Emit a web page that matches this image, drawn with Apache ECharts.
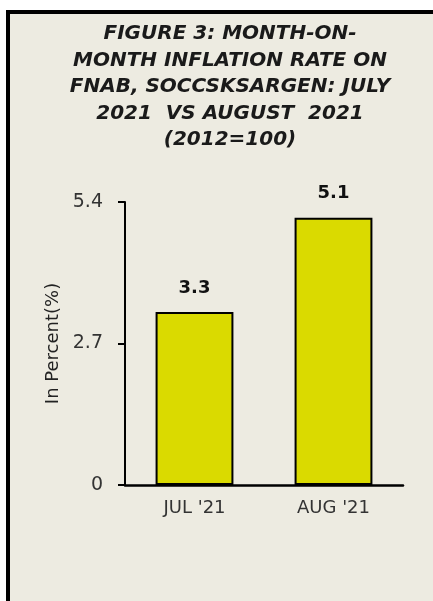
<!DOCTYPE html>
<html>
<head>
<meta charset="utf-8">
<script src="https://cdn.jsdelivr.net/npm/echarts@6/dist/echarts.min.js"></script>
<style>
    html, body {
        margin: 0;
        padding: 0;
        background: #ffffff;
    }
    /* 外框：只有左边和上边的黑线 */
    #frame {
        position: absolute;
        left: 6px;
        top: 10px;
        width: 440px;
        height: 600px;
        border-left: 4px solid #000;
        border-top: 4px solid #000;
        background: #edebe1;
    }
    #main {
        position: absolute;
        left: 0;
        top: 0;
        width: 433px;
        height: 601px;
    }
</style>
</head>
<body>
<div id="frame"></div>
<div id="main"></div>
<script>
// 数据
const categories = ['JUL \'21', 'AUG \'21'];
const values = [3.3, 5.1];
const yTicks = [0, 2.7, 5.4];

const titleText = 'FIGURE 3: MONTH-ON-\nMONTH INFLATION RATE ON\nFNAB, SOCCSKSARGEN: JULY\n2021  VS AUGUST  2021\n(2012=100)';

const myChart = echarts.init(document.getElementById('main'));

myChart.setOption({
    animation: false,
    title: {
        text: titleText,
        left: 225,
        top: 16,
        textAlign: 'center',
        textStyle: {
            fontFamily: 'DejaVu Sans',
            fontStyle: 'italic',
            fontWeight: 'bold',
            fontSize: 20,
            lineHeight: 26.5,
            color: '#1a1a1a'
        }
    },
    grid: {
        left: 125,
        right: 30,
        top: 202,
        bottom: 116
    },
    xAxis: {
        type: 'category',
        data: categories,
        axisLine: { lineStyle: { color: '#000', width: 2.5 } },
        axisTick: { show: false },
        axisLabel: {
            margin: 14,
            fontFamily: 'DejaVu Sans',
            fontSize: 18,
            color: '#333'
        }
    },
    yAxis: {
        type: 'value',
        min: yTicks[0],
        max: yTicks[yTicks.length - 1],
        interval: yTicks[1] - yTicks[0],
        name: 'In Percent(%)',
        nameLocation: 'middle',
        nameGap: 62,
        nameTextStyle: {
            fontFamily: 'DejaVu Sans',
            fontSize: 18,
            color: '#222'
        },
        splitLine: { show: false },
        axisLine: { show: true, lineStyle: { color: '#000', width: 2 } },
        axisTick: { show: true, length: 7, lineStyle: { color: '#000', width: 2 } },
        axisLabel: {
            margin: 22,
            fontFamily: 'DejaVu Sans',
            fontSize: 19,
            color: '#333'
        }
    },
    series: [
        {
            type: 'bar',
            data: values,
            barWidth: '56%',
            itemStyle: {
                color: '#dada00',
                borderColor: '#000',
                borderWidth: 2
            },
            label: {
                show: true,
                position: 'top',
                distance: 15,
                fontFamily: 'DejaVu Sans',
                fontWeight: 'bold',
                fontSize: 18,
                color: '#111'
            }
        }
    ]
});
</script>
</body>
</html>
